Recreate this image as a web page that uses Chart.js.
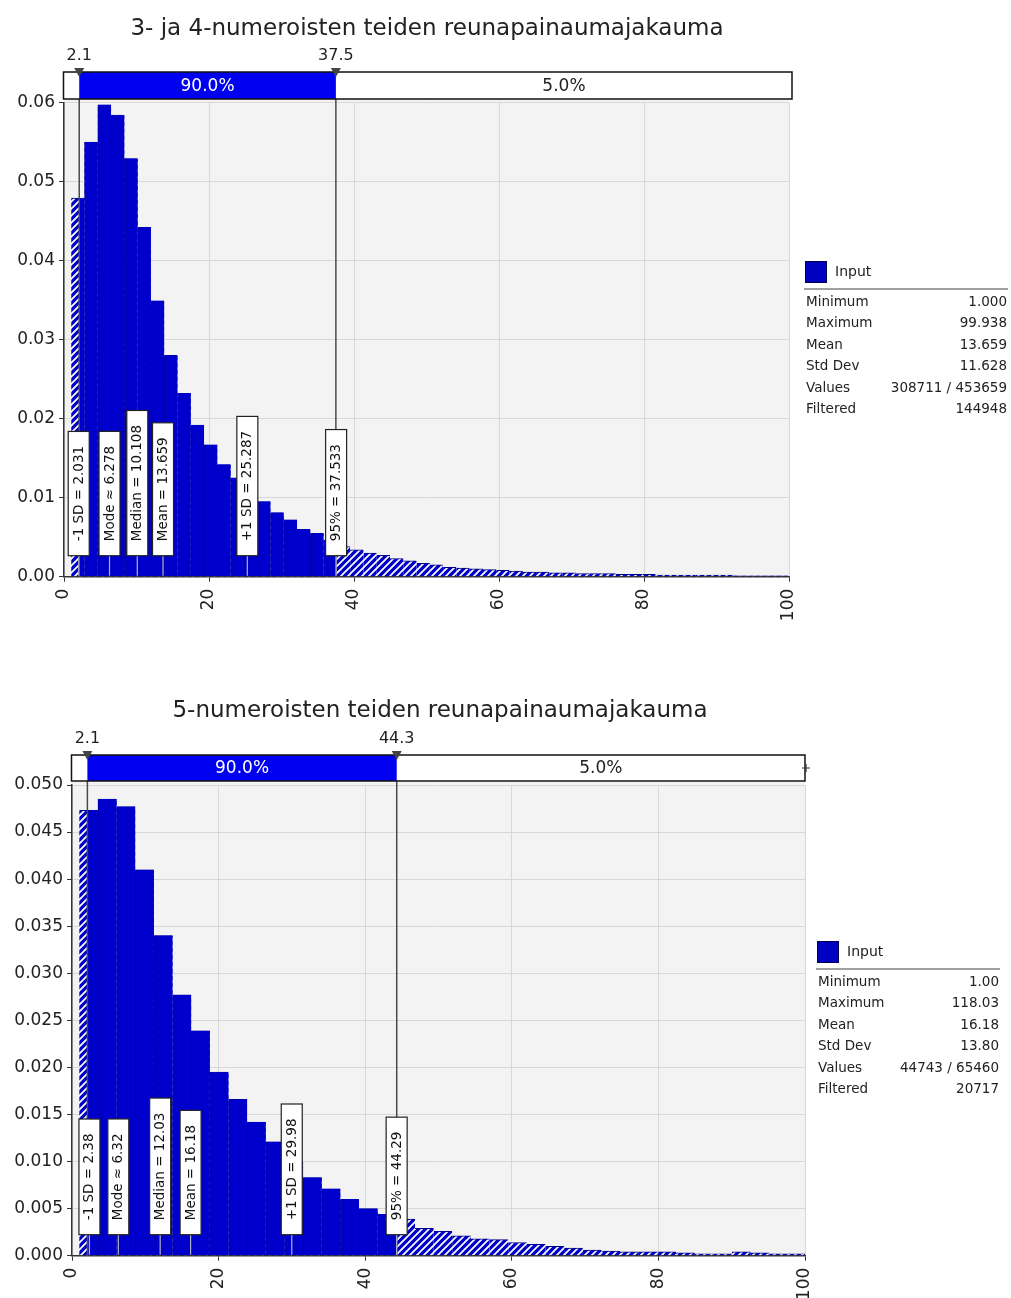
<!DOCTYPE html>
<html><head><meta charset="utf-8">
<script src="https://cdn.jsdelivr.net/npm/chart.js@4/dist/chart.umd.min.js"></script>
<style>
body{margin:0;background:#fff;width:1011px;height:1298px;position:relative;overflow:hidden;font-family:"DejaVu Sans",sans-serif;color:#222}
.title{position:absolute;white-space:nowrap;font-size:23px;line-height:30px;transform:translateX(-50%)}
.wrap{position:absolute;left:0;width:1011px}
.sq{position:absolute;width:20px;height:20px;background:#0000c0;border:1px solid #000050}
.lg{position:absolute;font-size:14px;line-height:20px}
.rule{position:absolute;height:2px;background:#a0a0a0}
.row{position:absolute;font-size:13.5px;line-height:20px;display:flex;justify-content:space-between}
</style></head>
<body>
<div class="wrap" style="top:0;height:650px"><canvas id="c1"></canvas></div>
<div class="wrap" style="top:650px;height:648px"><canvas id="c2"></canvas></div>
<div class="title" style="left:427px;top:12px">3- ja 4-numeroisten teiden reunapainaumajakauma</div>
<div class="title" style="left:440px;top:694px">5-numeroisten teiden reunapainaumajakauma</div>
<div id="leg1"></div><div id="leg2"></div>
<script>
// ---- data ----
const topBinStart = 1.0;
const topBinWidth = 1.832;
const topDensity = [0.0479,0.0550,0.0597,0.0584,0.0529,0.0442,0.0349,0.0280,0.0232,0.0192,
  0.0167,0.0142,0.0125,0.0108,0.0095,0.0081,0.0072,0.0060,0.0055,0.0046,
  0.0038,0.0034,0.0030,0.0027,0.0023,0.0020,0.0017,0.0015,0.0012,0.0011,
  0.0010,0.0009,0.0008,0.0007,0.0006,0.0006,0.0005,0.0005,0.0004,0.0004,
  0.0004,0.0003,0.0003,0.0003,0.0002,0.0002,0.0002,0.0002,0.0002,0.0002,
  0.0001,0.0001,0.0001,0.0001];
const bottomBinStart = 1.0;
const bottomBinWidth = 2.544;
const bottomDensity = [0.0473,0.0485,0.0477,0.0410,0.0340,0.0277,0.0239,0.0195,0.0166,0.0142,
  0.0121,0.0100,0.0083,0.0071,0.0060,0.0050,0.0044,0.0039,0.0029,0.0026,
  0.0021,0.0018,0.0017,0.0014,0.0012,0.0010,0.0008,0.0006,0.0005,0.0004,
  0.0004,0.0004,0.0003,0.0002,0.0002,0.0004,0.0003,0.0002,0.0002];

const topRange = [2.1, 37.5];
const topRangeTexts = ['2.1', '37.5'];
const topPctLabels = ['5.0%', '90.0%', '5.0%'];
const bottomRange = [2.1, 44.3];
const bottomRangeTexts = ['2.1', '44.3'];
const bottomPctLabels = ['5.0%', '90.0%', '5.0%'];

const topMarkerLabels = ['-1 SD = 2.031','Mode \u2248 6.278','Median = 10.108','Mean = 13.659','+1 SD = 25.287','95% = 37.533'];
const topMarkerValues = [2.031, 6.278, 10.108, 13.659, 25.287, 37.533];
const bottomMarkerLabels = ['-1 SD = 2.38','Mode \u2248 6.32','Median = 12.03','Mean = 16.18','+1 SD = 29.98','95% = 44.29'];
const bottomMarkerValues = [2.38, 6.32, 12.03, 16.18, 29.98, 44.29];

const statNames = ['Minimum','Maximum','Mean','Std Dev','Values','Filtered'];
const topStatValues = ['1.000','99.938','13.659','11.628','308711 / 453659','144948'];
const bottomStatValues = ['1.00','118.03','16.18','13.80','44743 / 65460','20717'];

// ---- helpers ----
function points(start, width, vals){ return vals.map((v,i)=>({x:start+width*(i+0.5), y:v})); }
function hatchPattern(){
  const s=7;
  const c=document.createElement('canvas'); c.width=s; c.height=s;
  const g=c.getContext('2d');
  g.fillStyle='#0000c8'; g.fillRect(0,0,s,s);
  g.strokeStyle='#ffffff'; g.lineWidth=1.7;
  g.beginPath(); g.moveTo(-1,s+1); g.lineTo(s+1,-1); g.moveTo(-1,1); g.lineTo(1,-1); g.moveTo(s-1,s+1); g.lineTo(s+1,s-1); g.stroke();
  return g.createPattern(c,'repeat');
}
Chart.defaults.font.family = '"DejaVu Sans", sans-serif';
Chart.defaults.font.size = 17;
Chart.defaults.color = '#222';

function overlay(cfg){
  return {
    id:'overlay',
    beforeDraw(chart){
      const {ctx, chartArea:a} = chart;
      ctx.save(); ctx.fillStyle='#f3f3f3';
      ctx.fillRect(a.left, a.top-3, a.right-a.left, a.bottom-a.top+3);
      ctx.restore();
    },
    beforeDatasetDraw(chart, args){
      if (args.index!==0) return;
      const xs=chart.scales.x, ctx=chart.ctx;
      const x1=xs.getPixelForValue(cfg.range[0]), x2=xs.getPixelForValue(cfg.range[1]);
      ctx.save(); ctx.beginPath(); ctx.rect(x1,0,x2-x1,chart.height); ctx.clip();
    },
    afterDatasetDraw(chart, args){ if (args.index===0) chart.ctx.restore(); },
    afterDatasetsDraw(chart){
      const {ctx, chartArea:a} = chart; const xs=chart.scales.x;
      const x1=xs.getPixelForValue(cfg.range[0]), x2=xs.getPixelForValue(cfg.range[1]);
      ctx.save();
      ctx.strokeStyle='#4a4a4a'; ctx.lineWidth=1.5;
      [x1,x2].forEach(x=>{ ctx.beginPath(); ctx.moveTo(x,cfg.barTop); ctx.lineTo(x,a.bottom); ctx.stroke(); });
      const L=a.left-0.5, R=a.right+cfg.barExtra;
      ctx.fillStyle='#fff'; ctx.fillRect(L,cfg.barTop,R-L,cfg.barH);
      ctx.fillStyle='#0000f0'; ctx.fillRect(x1,cfg.barTop,x2-x1,cfg.barH);
      ctx.strokeStyle='#111'; ctx.lineWidth=1.5; ctx.strokeRect(L,cfg.barTop,R-L,cfg.barH);
      ctx.font='17px "DejaVu Sans"'; ctx.textAlign='center'; ctx.textBaseline='middle';
      const segs=[[L,x1,'#222'],[x1,x2,'#fff'],[x2,R,'#222']];
      segs.forEach((s,i)=>{ const t=cfg.pct[i]; if (ctx.measureText(t).width+6 < s[1]-s[0]) { ctx.fillStyle=s[2]; ctx.fillText(t,(s[0]+s[1])/2,cfg.barTop+cfg.barH/2+1); } });
      ctx.font='16px "DejaVu Sans"';
      [x1,x2].forEach((x,i)=>{
        ctx.fillStyle='#444'; ctx.beginPath(); ctx.moveTo(x-5,cfg.barTop-4); ctx.lineTo(x+5,cfg.barTop-4); ctx.lineTo(x,cfg.barTop+5); ctx.closePath(); ctx.fill();
        ctx.fillStyle='#222'; ctx.fillText(cfg.rangeTexts[i], x, cfg.barTop-16);
      });
      if (cfg.endMark){
        ctx.strokeStyle='#333'; ctx.lineWidth=1.2; const cx=R+1, cy=cfg.barTop+cfg.barH/2;
        ctx.beginPath(); ctx.moveTo(cx-4,cy); ctx.lineTo(cx+4,cy); ctx.moveTo(cx,cy-4); ctx.lineTo(cx,cy+4); ctx.stroke();
      }
      ctx.font='13.5px "DejaVu Sans"';
      const bottom=a.bottom-21;
      cfg.labels.forEach((t,i)=>{
        const x=xs.getPixelForValue(cfg.values[i]);
        const w=ctx.measureText(t).width, h=w+29, bw=21;
        ctx.strokeStyle='#b0b0c8'; ctx.lineWidth=1.2;
        ctx.beginPath(); ctx.moveTo(x,bottom); ctx.lineTo(x,a.bottom-1); ctx.stroke();
        ctx.fillStyle='#fff'; ctx.fillRect(x-bw/2,bottom-h,bw,h);
        ctx.strokeStyle='#222'; ctx.lineWidth=1.2; ctx.strokeRect(x-bw/2,bottom-h,bw,h);
        ctx.save(); ctx.translate(x+0.5,bottom-h/2); ctx.rotate(-Math.PI/2);
        ctx.fillStyle='#111'; ctx.textAlign='center'; ctx.textBaseline='middle'; ctx.fillText(t,0,0);
        ctx.restore();
      });
      ctx.restore();
    }
  };
}

function makeChart(id, o){
  const pat=hatchPattern();
  const data=points(o.start,o.width,o.dens);
  return new Chart(document.getElementById(id),{
    type:'bar',
    data:{datasets:[
      {data:data, backgroundColor:'#0000cc', borderColor:'#0000a0', borderWidth:{left:1,right:0,top:0,bottom:0}, borderSkipped:false, barPercentage:1, categoryPercentage:1, grouped:false},
      {data:data, backgroundColor:pat, borderColor:'#00008a', borderWidth:{top:1,left:0,right:0,bottom:0}, borderSkipped:false, barPercentage:1, categoryPercentage:1, grouped:false}
    ]},
    options:{
      responsive:true, maintainAspectRatio:false, animation:false,
      layout:{padding:{left:0,right:o.padRight,top:o.padTop,bottom:0}},
      plugins:{legend:{display:false}, tooltip:{enabled:false}},
      scales:{
        x:{type:'linear', min:0, max:100, offset:false,
           ticks:{stepSize:20, minRotation:90, maxRotation:90, padding:7, font:{size:17}},
           grid:{offset:false, color:'#d8d8d8', tickColor:'#333', tickLength:5},
           border:{color:'#333', width:1.5},
           afterFit(s){ s.height=o.xH; }},
        y:{min:0, max:o.ymax,
           ticks:{stepSize:o.ystep, padding:4, callback:v=>v.toFixed(o.dec), font:{size:17}},
           grid:{color:'#d8d8d8', tickColor:'#333', tickLength:5},
           border:{color:'#333', width:1.5},
           afterFit(s){ s.width=o.yW; }}
      }
    },
    plugins:[overlay(o.ov)]
  });
}

makeChart('c1',{start:topBinStart,width:topBinWidth,dens:topDensity,padRight:222,padTop:102.5,xH:73.3,yW:64,ymax:0.06,ystep:0.01,dec:2,
  ov:{range:topRange,rangeTexts:topRangeTexts,pct:topPctLabels,labels:topMarkerLabels,values:topMarkerValues,barTop:72,barH:27,barExtra:3,endMark:false}});
makeChart('c2',{start:bottomBinStart,width:bottomBinWidth,dens:bottomDensity,padRight:206,padTop:135,xH:42.3,yW:72,ymax:0.05,ystep:0.005,dec:3,
  ov:{range:bottomRange,rangeTexts:bottomRangeTexts,pct:bottomPctLabels,labels:bottomMarkerLabels,values:bottomMarkerValues,barTop:105,barH:26,barExtra:0,endMark:true}});

function legend(el, x, y, right, vals){
  let h='';
  h+=`<div class="sq" style="left:${x}px;top:${y}px"></div>`;
  h+=`<div class="lg" style="left:${x+30}px;top:${y}px">Input</div>`;
  h+=`<div class="rule" style="left:${x-1}px;top:${y+27}px;width:${right-x+2}px"></div>`;
  statNames.forEach((n,i)=>{
    h+=`<div class="row" style="left:${x+1}px;top:${y+30+i*21.4}px;width:${right-x-1}px"><span>${n}</span><span>${vals[i]}</span></div>`;
  });
  document.getElementById(el).innerHTML=h;
}
legend('leg1',805,261,1007,topStatValues);
legend('leg2',817,941,999,bottomStatValues);
</script>
</body></html>
